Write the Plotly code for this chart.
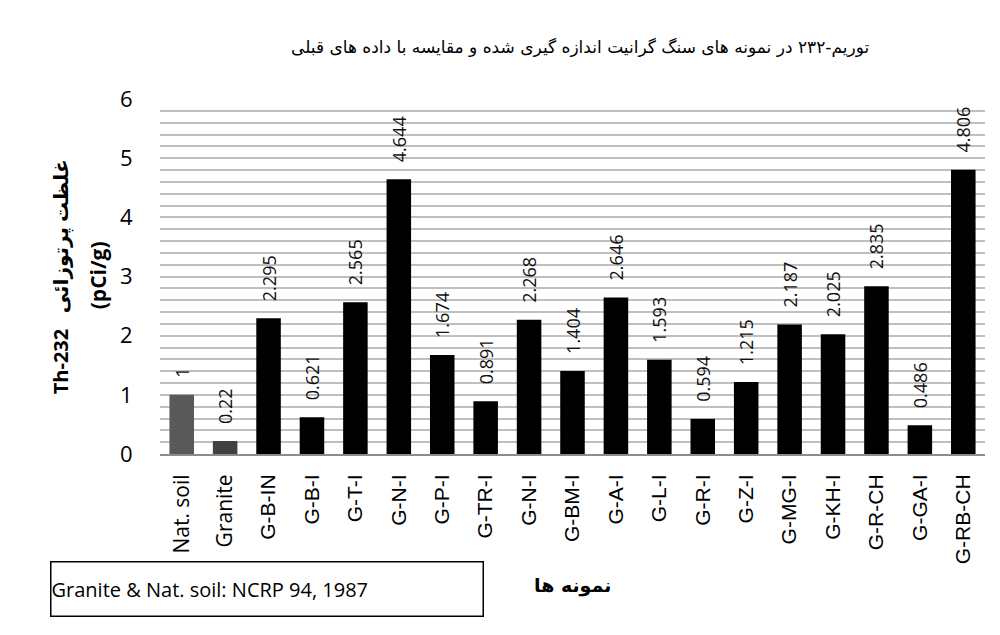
import plotly.graph_objects as go

# ---- data ----
categories = ["Nat. soil", "Granite", "G-B-IN", "G-B-I", "G-T-I", "G-N-I", "G-P-I",
              "G-TR-I", "G-N-I", "G-BM-I", "G-A-I", "G-L-I", "G-R-I", "G-Z-I",
              "G-MG-I", "G-KH-I", "G-R-CH", "G-GA-I", "G-RB-CH"]
values = [1, 0.22, 2.295, 0.621, 2.565, 4.644, 1.674, 0.891, 2.268, 1.404, 2.646,
          1.593, 0.594, 1.215, 2.187, 2.025, 2.835, 0.486, 4.806]
value_labels = ["1", "0.22", "2.295", "0.621", "2.565", "4.644", "1.674", "0.891",
                "2.268", "1.404", "2.646", "1.593", "0.594", "1.215", "2.187",
                "2.025", "2.835", "0.486", "4.806"]
reference_flags = [True, True] + [False] * 17
bar_colors = ["#595959", "#404040"] + ["#000000"] * 17
y_labelled_ticks = [0, 1, 2, 3, 4, 5, 6]
y_grid_step = 0.2

title_text = "توریم-۲۳۲ در نمونه های سنگ گرانیت اندازه گیری شده و مقایسه با داده های قبلی"
ytitle_line1 = "Th-232\u00a0\u00a0 غلظت پرتوزائی"
ytitle_line2 = "(pCi/g)"
xtitle_text = "نمونه ها"
note_text = "Granite &amp; Nat. soil: NCRP 94, 1987"

# ---- geometry helpers (pixels -> paper) ----
W, H = 1000, 635
L, R, T, B = 160, 15, 98.5, 181
PW, PH = W - L - R, H - T - B

def px(x):
    return (x - L) / PW

def py(y):
    return (H - B - y) / PH

xs = list(range(len(categories)))
ticktext = []
for c, ref in zip(categories, reference_flags):
    if ref:
        ticktext.append(f'<span style="font-family:Open Sans;font-size:21px">{c}</span>')
    else:
        ticktext.append(c)

n_grid = int(round(6 / y_grid_step))
y_tickvals = [round(i * y_grid_step, 6) for i in range(n_grid + 1)]
y_ticktext = [str(int(v)) if any(abs(v - t) < 1e-9 for t in y_labelled_ticks) else ""
              for v in y_tickvals]

fig = go.Figure()
fig.add_trace(go.Bar(
    x=xs, y=values, marker=dict(color=bar_colors, line=dict(width=0)),
    text=value_labels, texttemplate="\u00a0\u00a0\u00a0%{text}",
    textposition="outside", textangle=-90, constraintext="none", cliponaxis=False,
    textfont=dict(family="Open Sans", size=18, color="#111111"),
    hoverinfo="skip", showlegend=False,
))

annotations = []
annotations.append(dict(
    x=px(580), y=py(47), xref="paper", yref="paper", text=title_text,
    showarrow=False, xanchor="center", yanchor="middle",
    font=dict(family="DejaVu Sans", size=17, color="#000000"),
))
annotations.append(dict(
    x=px(60), y=py(277), xref="paper", yref="paper", text="<b>" + ytitle_line1 + "</b>",
    showarrow=False, textangle=-90, xanchor="center", yanchor="middle",
    font=dict(family="Open Sans, DejaVu Sans", size=20, color="#000000"),
))
annotations.append(dict(
    x=px(98), y=py(275), xref="paper", yref="paper", text="<b>" + ytitle_line2 + "</b>",
    showarrow=False, textangle=-90, xanchor="center", yanchor="middle",
    font=dict(family="Open Sans", size=21, color="#000000"),
))
annotations.append(dict(
    x=px(572), y=py(586), xref="paper", yref="paper", text="<b>" + xtitle_text + "</b>",
    showarrow=False, xanchor="center", yanchor="middle",
    font=dict(family="DejaVu Sans", size=19, color="#000000"),
))
# note text inside a bordered annotation box (no shapes)
annotations.append(dict(
    x=px(50), y=py(561), xref="paper", yref="paper", text=note_text,
    showarrow=False, xanchor="left", yanchor="top", align="left",
    width=431, height=53, borderpad=0, bordercolor="#000000", borderwidth=1.5,
    font=dict(family="Open Sans", size=20, color="#000000"),
))

fig.update_layout(
    template="none",
    width=W, height=H,
    margin=dict(l=L, r=R, t=T, b=B, pad=0),
    paper_bgcolor="white", plot_bgcolor="white",
    bargap=0.435,
    showlegend=False,
    annotations=annotations,
    xaxis=dict(
        range=[-0.5, len(categories) - 0.5],
        tickmode="array", tickvals=xs, ticktext=ticktext, tickangle=-90,
        tickfont=dict(family="Liberation Sans, Arial", size=21, color="#000000"),
        showgrid=False, zeroline=False,
        showline=True, linecolor="#8c8c8c", linewidth=2,
        ticks="outside", ticklen=10, tickcolor="rgba(0,0,0,0)",
    ),
    yaxis=dict(
        range=[0, 6], tickmode="array", tickvals=y_tickvals, ticktext=y_ticktext,
        tickfont=dict(family="Open Sans", size=22, color="#000000"),
        showgrid=True, gridcolor="#bfbfbf", gridwidth=1.5,
        zeroline=False, showline=False,
        ticks="outside", ticklen=22, tickcolor="rgba(0,0,0,0)",
    ),
)

fig.write_html(
    "out.html",
    config={"displayModeBar": False},
    post_script="document.body.style.margin='0';document.body.style.overflow='hidden';",
)
